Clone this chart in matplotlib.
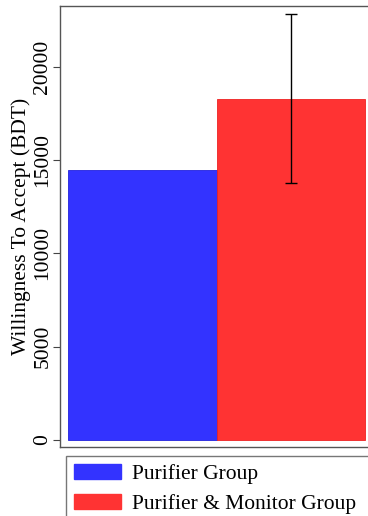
import matplotlib
matplotlib.use("Agg")
import matplotlib.pyplot as plt
from matplotlib.patches import Patch

groups = ["Purifier Group", "Purifier & Monitor Group"]
values = [14450, 18290]
errors = [None, 4540]
colors = ["#3333ff", "#ff3333"]
yticks = [0, 5000, 10000, 15000, 20000]

plt.rcParams['font.family'] = ['Liberation Serif', 'DejaVu Serif']

fig = plt.figure(figsize=(3.68, 5.16), dpi=100)
ax = fig.add_axes([60/368, 1-447/516, 1-60/368, (447-6)/516])

x = list(range(len(groups)))
ax.bar(x, values, width=1.0, color=colors, edgecolor=["#2222dd", "#ee2222"], linewidth=0.6)
for xi, v, e in zip(x, values, errors):
    if e is not None:
        ax.errorbar(xi, v, yerr=e, color="black", elinewidth=1, capsize=4, capthick=1)

ax.set_xlim(-0.554, 1.52)
ax.set_ylim(-375, 23250)
ax.set_yticks(yticks)
ax.set_yticklabels([str(t) for t in yticks], rotation=90, va="center", fontsize=15.5)
ax.set_xticks([])
ax.tick_params(axis="y", length=5, width=0.8, color="#444444", pad=0.5)
ax.set_ylabel("Willingness To Accept (BDT)", fontsize=15.5, labelpad=2)
for s in ["left", "bottom", "top"]:
    ax.spines[s].set_color("#555555")
    ax.spines[s].set_linewidth(1.0)
ax.spines["right"].set_visible(False)

handles = [Patch(facecolor=c, edgecolor=c) for c in colors]
leg = fig.legend(handles, groups, loc="upper left",
                 bbox_to_anchor=(66/368, 1-456/516, (374-66)/368, 0), mode="expand",
                 fontsize=15.5, frameon=True, fancybox=False, handlelength=2.2,
                 handleheight=0.75, handletextpad=0.5, borderpad=0.35, labelspacing=0.45,
                 borderaxespad=0)
leg.get_frame().set_edgecolor("#555555")
leg.get_frame().set_linewidth(1.0)

fig.savefig("out.png", dpi=100)
